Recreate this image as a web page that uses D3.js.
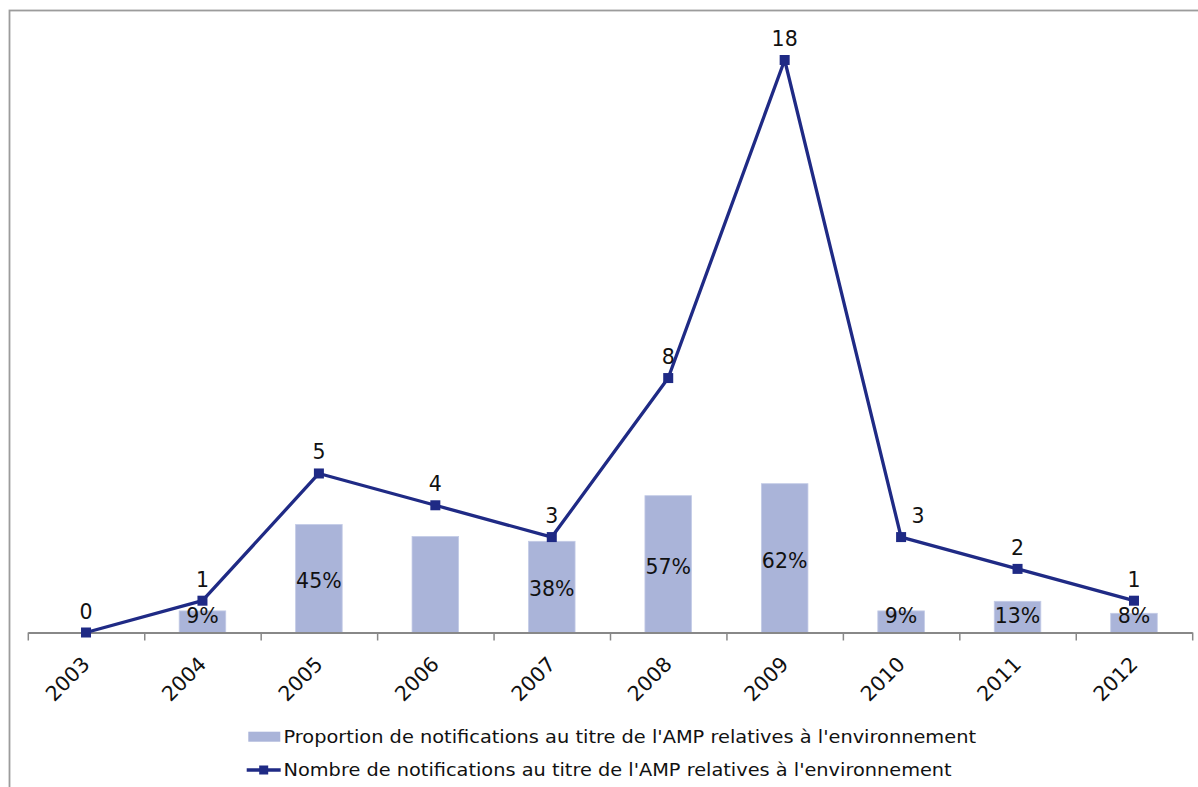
<!DOCTYPE html>
<html lang="fr">
<head>
<meta charset="utf-8">
<title>Notifications au titre de l'AMP relatives à l'environnement</title>
<script src="https://cdn.jsdelivr.net/npm/d3@7"></script>
<style>
  html, body { margin: 0; padding: 0; background: #ffffff; }
  svg { display: block; }
  text { font-family: "DejaVu Sans", Verdana, sans-serif; fill: #111111; }
</style>
</head>
<body>
<svg id="chart" width="1198" height="787"></svg>
<script>
// Years on the category axis
const years = ["2003", "2004", "2005", "2006", "2007", "2008", "2009", "2010", "2011", "2012"];
// Share of environment-related AMP notifications (%), null where not plotted
const proportionPct = [null, 9, 45, 40, 38, 57, 62, 9, 13, 8];
// Which proportions carry a printed label
const proportionLabelShown = [false, true, true, false, true, true, true, true, true, true];
// Number of environment-related AMP notifications
const notificationCount = [0, 1, 5, 4, 3, 8, 18, 3, 2, 1];
// Legend entries
const legendBars = "Proportion de notifications au titre de l'AMP relatives à l'environnement";
const legendLine = "Nombre de notifications au titre de l'AMP relatives à l'environnement";

const svg = d3.select("#chart");

const BAR_COLOR = "#aab4d9";
const LINE_COLOR = "#1f2a85";
const AXIS_COLOR = "#888888";

// Outer chart frame
svg.append("rect")
  .attr("x", 9.5).attr("y", 10.5)
  .attr("width", 1400).attr("height", 1000)
  .attr("fill", "none")
  .attr("stroke", "#9c9c9c")
  .attr("stroke-width", 1.8);

const plot = { left: 27.8, right: 1192.2, base: 632.5 };

const x = d3.scaleBand().domain(years).range([plot.left, plot.right]).paddingInner(0).paddingOuter(0);
const xEdge = d3.scaleLinear().domain([0, years.length]).range([plot.left, plot.right]);
const yCount = d3.scaleLinear().domain([0, 18]).range([plot.base, 60]);
const yPct = d3.scaleLinear().domain([0, 100]).range([plot.base, plot.base - 240]);

const barW = x.bandwidth() * 0.4;
const cx = d => x(d) + x.bandwidth() / 2;

// Bars: proportion (secondary scale)
const barData = years.map((y, i) => ({ year: y, v: proportionPct[i], show: proportionLabelShown[i] }))
  .filter(d => d.v !== null);

svg.append("g").selectAll("rect")
  .data(barData)
  .join("rect")
  .attr("x", d => cx(d.year) - barW / 2)
  .attr("y", d => yPct(d.v))
  .attr("width", barW)
  .attr("height", d => yPct(0) - yPct(d.v))
  .attr("fill", BAR_COLOR)
  .attr("stroke", "#c3cbe6")
  .attr("stroke-width", 0.8);

// Category axis with ticks between categories
const axis = d3.axisBottom(xEdge)
  .tickValues(d3.range(0, years.length + 1))
  .tickFormat("")
  .tickSizeInner(8)
  .tickSizeOuter(0);

const gAxis = svg.append("g")
  .attr("transform", `translate(0,${plot.base})`)
  .call(axis);
gAxis.select(".domain").attr("stroke", AXIS_COLOR).attr("stroke-width", 2);
gAxis.selectAll(".tick line").attr("stroke", AXIS_COLOR).attr("stroke-width", 1.5);

// Year labels, rotated
svg.append("g").selectAll("text")
  .data(years)
  .join("text")
  .attr("transform", d => `translate(${cx(d) + 5},${plot.base + 33}) rotate(-45)`)
  .attr("text-anchor", "end")
  .attr("font-size", 20.5)
  .text(d => d);

// Bar value labels, centred in each bar (kept clear of the axis on short bars)
svg.append("g").selectAll("text")
  .data(barData.filter(d => d.show))
  .join("text")
  .attr("x", d => cx(d.year))
  .attr("y", d => Math.min((yPct(d.v) + yPct(0)) / 2 + 9.5, 622.5))
  .attr("text-anchor", "middle")
  .attr("font-size", 20.5)
  .text(d => d3.format("d")(d.v) + "%");

// Line: number of notifications
const lineData = years.map((y, i) => ({ year: y, v: notificationCount[i], i }));

svg.append("path")
  .datum(lineData)
  .attr("fill", "none")
  .attr("stroke", LINE_COLOR)
  .attr("stroke-width", 3.3)
  .attr("stroke-linejoin", "round")
  .attr("d", d3.line().x(d => cx(d.year)).y(d => yCount(d.v)));

svg.append("g").selectAll("rect")
  .data(lineData)
  .join("rect")
  .attr("x", d => cx(d.year) - 5)
  .attr("y", d => yCount(d.v) - 5)
  .attr("width", 10)
  .attr("height", 10)
  .attr("fill", LINE_COLOR);

// Count labels above the markers; the 2010 label sits to the right of the steep drop
svg.append("g").selectAll("text")
  .data(lineData)
  .join("text")
  .attr("x", d => cx(d.year) + (d.year === "2010" ? 17 : 0))
  .attr("y", d => yCount(d.v) - 14)
  .attr("text-anchor", "middle")
  .attr("font-size", 20.5)
  .text(d => d.v);

// Legend
const legend = svg.append("g");
legend.append("rect")
  .attr("x", 248.3).attr("y", 731.7)
  .attr("width", 32).attr("height", 10)
  .attr("fill", BAR_COLOR);
legend.append("text")
  .attr("x", 283.5).attr("y", 742.7)
  .attr("font-size", 18.4)
  .attr("textLength", 692.5)
  .attr("lengthAdjust", "spacingAndGlyphs")
  .text(legendBars);

legend.append("line")
  .attr("x1", 246.7).attr("x2", 280.7)
  .attr("y1", 770).attr("y2", 770)
  .attr("stroke", LINE_COLOR).attr("stroke-width", 3.3);
legend.append("rect")
  .attr("x", 263.7 - 4.5).attr("y", 770 - 4.5)
  .attr("width", 9).attr("height", 9)
  .attr("fill", LINE_COLOR);
legend.append("text")
  .attr("x", 283.5).attr("y", 776)
  .attr("font-size", 18.4)
  .attr("textLength", 668.2)
  .attr("lengthAdjust", "spacingAndGlyphs")
  .text(legendLine);
</script>
</body>
</html>
